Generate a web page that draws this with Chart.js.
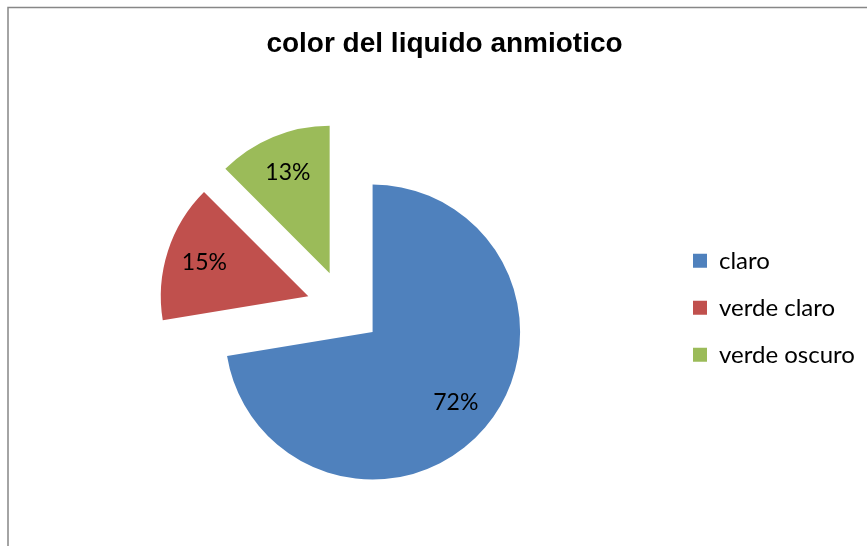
<!DOCTYPE html>
<html>
<head>
<meta charset="utf-8">
<script src="https://cdn.jsdelivr.net/npm/chart.js@4/dist/chart.umd.min.js"></script>
<style>
  html, body { margin: 0; padding: 0; background: #ffffff; }
  #wrap { width: 867px; height: 546px; position: relative; }
</style>
</head>
<body>
<div id="wrap"><canvas id="c" width="867" height="546"></canvas></div>
<script>
// ---- data ----
const titleText = 'color del liquido anmiotico';
const categories = ['claro', 'verde claro', 'verde oscuro'];
const values = [72.4, 15.1, 12.5];

const total = values.reduce((a, b) => a + b, 0);
const percentLabels = values.map(v => Math.round(v / total * 100) + '%');

// frame plugin
const framePlugin = {
  id: 'frame',
  beforeDraw(chart) {
    const ctx = chart.ctx;
    ctx.save();
    ctx.fillStyle = '#ffffff';
    ctx.fillRect(0, 0, chart.width, chart.height);
    ctx.strokeStyle = '#878787';
    ctx.lineWidth = 1.5;
    ctx.strokeRect(8, 7.5, chart.width + 20, chart.height + 20);
    ctx.restore();
  }
};

// fixed legend width (Excel-like legend placement)
const legendWidth = {
  id: 'legendWidth',
  beforeInit(chart) {
    const lg = chart.legend;
    if (!lg) return;
    const orig = lg.fit;
    lg.fit = function () { orig.call(this); this.width = 201; };
  }
};

// keep exploded slices at the same radius / angle as the unexploded pie
const explodeFix = {
  id: 'explodeFix',
  afterDatasetUpdate(chart, args) {
    args.meta.data.forEach(a => { a.$fixed = false; });
  },
  beforeDatasetDraw(chart, args) {
    args.meta.data.forEach(arc => {
      if (arc.$fixed) return;
      const off = (arc.options.offset || 0) / 4;
      const fix = 1 - Math.sin(Math.min(Math.PI, arc.circumference || 0));
      const r0 = off * fix;
      const R = arc.outerRadius;
      arc.outerRadius = R - r0;
      const d = r0 / (2 * Math.PI * R);
      arc.startAngle -= d;
      arc.endAngle += d;
      arc.$drawR = R;
      arc.$fixed = true;
    });
  }
};

// percentage labels inside slices
const sliceLabels = {
  id: 'sliceLabels',
  afterDatasetsDraw(chart) {
    const meta = chart.getDatasetMeta(0);
    const ctx = chart.ctx;
    ctx.save();
    ctx.font = '23px Lato, "Liberation Sans", sans-serif';
    ctx.fillStyle = '#000000';
    ctx.textAlign = 'center';
    ctx.textBaseline = 'middle';
    meta.data.forEach((arc, i) => {
      const mid = (arc.startAngle + arc.endAngle) / 2;
      const off = (arc.options.offset || 0) / 4;
      const R = arc.$drawR || arc.outerRadius;
      const cx = arc.x + Math.cos(mid) * off;
      const cy = arc.y + Math.sin(mid) * off;
      const f = 0.74;
      ctx.fillText(percentLabels[i], cx + Math.cos(mid) * R * f, cy + Math.sin(mid) * R * f);
    });
    ctx.restore();
  }
};

Chart.defaults.color = '#000000';

new Chart(document.getElementById('c'), {
  type: 'pie',
  data: {
    labels: categories,
    datasets: [{
      data: values,
      backgroundColor: ['#4F81BD', '#C0504D', '#9BBB59'],
      borderWidth: 0,
      offset: 150,
      hoverOffset: 0
    }]
  },
  options: {
    responsive: false,
    animation: false,
    devicePixelRatio: 1,
    radius: 147.5,
    layout: { padding: { left: 18, right: -4, top: 0, bottom: 0 } },
    plugins: {
      title: {
        display: true,
        text: titleText,
        color: '#000000',
        font: { family: '"Liberation Sans", Arial, sans-serif', size: 28, weight: 'bold', lineHeight: 1.2 },
        padding: { top: 27, bottom: 9 }
      },
      legend: {
        position: 'right',
        align: 'center',
        fullSize: false,
        labels: {
          boxWidth: 14,
          boxHeight: 14,
          padding: 23,
          color: '#000000',
          font: { family: 'Lato, "Liberation Sans", sans-serif', size: 24 }
        }
      },
      tooltip: { enabled: false }
    }
  },
  plugins: [framePlugin, legendWidth, explodeFix, sliceLabels]
});
</script>
</body>
</html>
